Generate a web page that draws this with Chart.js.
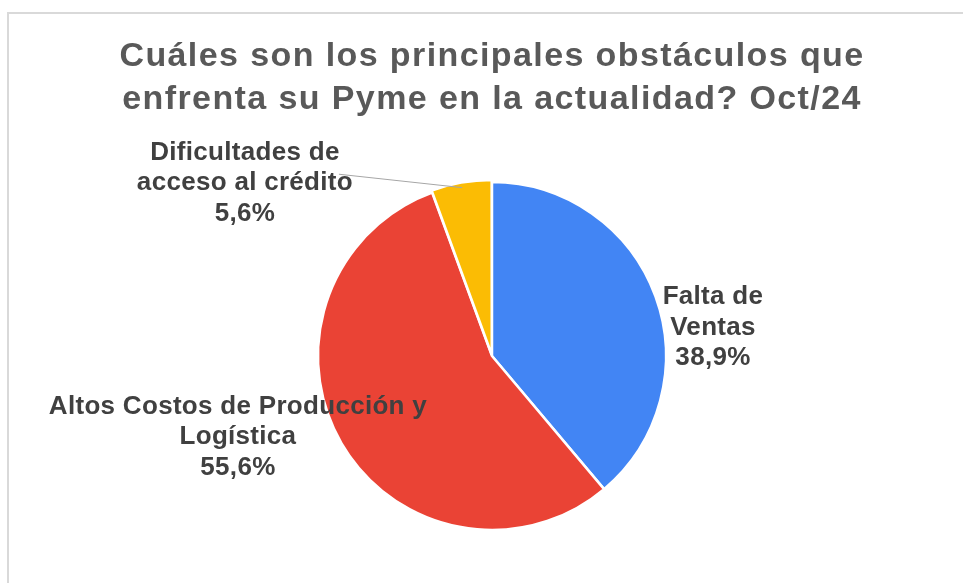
<!DOCTYPE html>
<html>
<head>
<meta charset="utf-8">
<script src="https://cdn.jsdelivr.net/npm/chart.js@4"></script>
<style>
  html, body { margin: 0; padding: 0; background: #ffffff; }
  #wrap { position: relative; width: 965px; height: 583px; }
</style>
</head>
<body>
<div id="wrap"><canvas id="obstaculos"></canvas></div>
<script>
// datos
var categorias = [
    ["Falta de", "Ventas"],
    ["Altos Costos de Producción y", "Logística"],
    ["Dificultades de", "acceso al crédito"]
];
var porcentajes = [38.9, 55.6, 5.6];
var colores = ["#4285F4", "#EA4335", "#FBBC04"];
var titulo = ["Cuáles son los principales obstáculos que", "enfrenta su Pyme en la actualidad? Oct/24"];

// etiquetas: posicion relativa al centro, en radios
var posEtiquetas = [
    { fx: 1.27, fy: -0.14 },
    { fx: -1.46, fy: 0.49 },
    { fx: -1.42, fy: -0.97, guia: true }
];

const etiquetasPlugin = {
    id: "etiquetas",
    beforeDraw: function (chart) {
        const ctx = chart.ctx;
        ctx.save();
        // marco del grafico (arriba e izquierda)
        ctx.strokeStyle = "#d9d9d9";
        ctx.lineWidth = 2;
        ctx.beginPath();
        ctx.moveTo(8, 583);
        ctx.lineTo(8, 13);
        ctx.lineTo(963, 13);
        ctx.stroke();
        // titulo
        ctx.fillStyle = "#595959";
        ctx.font = "bold 34px 'Liberation Sans', Arial, sans-serif";
        ctx.letterSpacing = "1.4px";
        ctx.textAlign = "center";
        ctx.textBaseline = "alphabetic";
        ctx.fillText(titulo[0], 492, 66);
        ctx.fillText(titulo[1], 492, 109);
        ctx.restore();
    },
    afterDatasetsDraw: function (chart) {
        const ctx = chart.ctx;
        const meta = chart.getDatasetMeta(0);
        ctx.save();
        ctx.font = "bold 26px 'Liberation Sans', Arial, sans-serif";
        ctx.letterSpacing = "0.3px";
        ctx.textAlign = "center";
        ctx.textBaseline = "alphabetic";
        meta.data.forEach(function (arc, i) {
            const p = posEtiquetas[i];
            const r = arc.outerRadius;
            const cx = arc.x + p.fx * r;
            const cy = arc.y + p.fy * r;
            const lineas = categorias[i].concat([porcentajes[i].toFixed(1).replace(".", ",") + "%"]);
            const lh = 30.5;
            const y0 = cy - lh * (lineas.length - 1) / 2 + 3;
            if (p.guia) {
                const mid = (arc.startAngle + arc.endAngle) / 2;
                const off = arc.options.offset || 0;
                const ex = arc.x + Math.cos(mid) * (r + off - 8);
                const ey = arc.y + Math.sin(mid) * (r + off - 8);
                ctx.strokeStyle = "#a6a6a6";
                ctx.lineWidth = 1;
                ctx.beginPath();
                ctx.moveTo(cx + 94, y0 + lh - 16);
                ctx.lineTo(ex, ey);
                ctx.stroke();
            }
            ctx.fillStyle = "#404040";
            lineas.forEach(function (t, k) {
                ctx.fillText(t, cx, y0 + k * lh);
            });
        });
        ctx.restore();
    }
};

document.addEventListener("DOMContentLoaded", (event) => {
    var ctx = document.getElementById("obstaculos").getContext("2d");
    var grafico = new Chart(ctx, {
        type: "pie",
        data: {
            labels: categorias.map(function (c) { return c.join(" "); }),
            datasets: [
                {
                    data: porcentajes,
                    backgroundColor: colores,
                    borderColor: "#ffffff",
                    borderWidth: 2.5,
                    offset: [0, 0, 5],
                    radius: 174,
                },
            ],
        },
        options: {
            responsive: true,
            maintainAspectRatio: false,
            animation: false,
            layout: {
                padding: { top: 182, bottom: 53, left: 142, right: 123 },
            },
            plugins: {
                legend: { display: false },
                title: { display: false },
                tooltip: { enabled: false },
            },
        },
        plugins: [etiquetasPlugin],
    });
});
</script>
</body>
</html>
